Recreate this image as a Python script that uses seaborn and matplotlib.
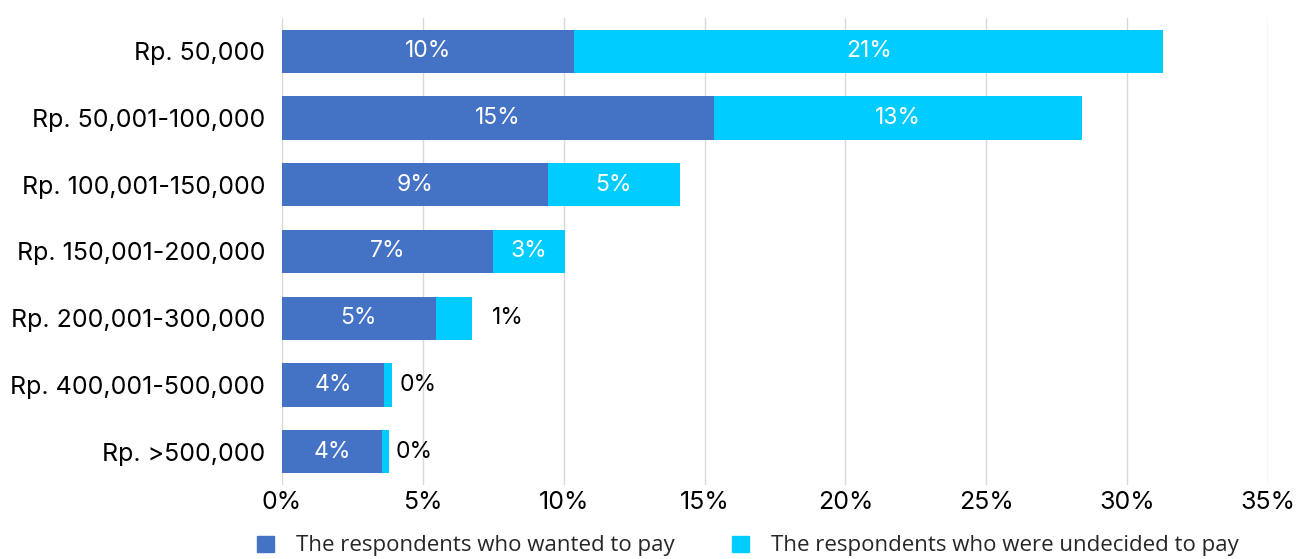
import matplotlib
matplotlib.use("Agg")
import matplotlib.pyplot as plt
import seaborn as sns
import pandas as pd
from matplotlib.patches import Patch
from matplotlib.ticker import PercentFormatter

# datos (porcentaje)
categorias = ["Rp. 50,000", "Rp. 50,001-100,000", "Rp. 100,001-150,000",
              "Rp. 150,001-200,000", "Rp. 200,001-300,000",
              "Rp. 400,001-500,000", "Rp. >500,000"]
quiere_pagar = [10.38, 15.34, 9.43, 7.48, 5.45, 3.63, 3.56]
indeciso = [20.91, 13.07, 4.70, 2.58, 1.30, 0.29, 0.22]
nombres_series = ["The respondents who wanted to pay",
                  "The respondents who were undecided to pay"]

AZUL = "#4472C4"
CIAN = "#00CCFF"

df = pd.DataFrame({"cat": categorias, "pagar": quiere_pagar, "indeciso": indeciso})
df["total"] = df["pagar"] + df["indeciso"]

sns.set_style("white")
plt.rcParams["font.family"] = ["Inter", "DejaVu Sans"]

fig, ax = plt.subplots(figsize=(13.01, 5.59), dpi=100)
fig.subplots_adjust(left=0.2168, right=0.9746, top=0.9678, bottom=0.1324)

# barra total (cian) y encima la parte azul
sns.barplot(data=df, x="total", y="cat", color=CIAN, saturation=1, width=0.65,
            linewidth=0, ax=ax, orient="h")
sns.barplot(data=df, x="pagar", y="cat", color=AZUL, saturation=1, width=0.65,
            linewidth=0, ax=ax, orient="h")

# etiquetas de datos
for i, row in df.iterrows():
    ax.text(row["pagar"] / 2, i, f"{row['pagar']:.0f}%", ha="center", va="center",
            color="white", fontsize=16.5)
    if row["indeciso"] >= 2:
        ax.text(row["pagar"] + row["indeciso"] / 2, i, f"{row['indeciso']:.0f}%",
                ha="center", va="center", color="white", fontsize=16.5)
    else:
        pad = 14 if row["indeciso"] >= 1 else 5
        ax.annotate(f"{row['indeciso']:.0f}%", (row["total"], i), xytext=(pad, 0),
                    textcoords="offset points", ha="left", va="center",
                    color="black", fontsize=16.5)

ax.set_xlim(0, 35)
ax.set_ylim(6.5, -0.5)
ax.set_xticks(range(0, 36, 5))
ax.xaxis.set_major_formatter(PercentFormatter(decimals=0))
ax.set_xlabel("")
ax.set_ylabel("")
ax.grid(axis="x", color="#D9D9D9", linewidth=1)
ax.set_axisbelow(True)
for s in ax.spines.values():
    s.set_visible(False)
ax.tick_params(axis="both", length=0, labelsize=18, colors="black")
ax.tick_params(axis="y", pad=12)
ax.tick_params(axis="x", pad=4)

handles = [Patch(color=AZUL), Patch(color=CIAN)]
fig.legend(handles, nombres_series, loc="center", bbox_to_anchor=(748 / 1301, 1 - 546 / 559),
           ncol=2, frameon=False, handlelength=0.75, handleheight=0.75,
           handletextpad=1.0, columnspacing=2.6,
           prop={"family": ["Open Sans", "DejaVu Sans"], "size": 16})

fig.savefig("out.png", dpi=100)
